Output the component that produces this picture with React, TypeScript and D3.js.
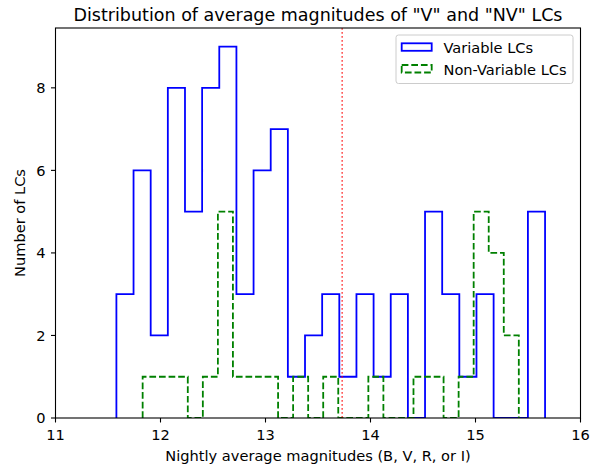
import React from "react";
import * as d3 from "d3";

// Histogram counts for the two samples (25 bins each)
const variableStart = 11.58;
const variableBinWidth = 0.1633;
const variableCounts = [3, 6, 2, 8, 5, 8, 9, 3, 6, 7, 1, 2, 3, 1, 3, 1, 3, 0, 5, 3, 1, 3, 0, 0, 5];

const nonVariableStart = 11.83;
const nonVariableBinWidth = 0.1433;
const nonVariableCounts = [1, 1, 1, 0, 1, 5, 1, 1, 1, 0, 1, 0, 1, 0, 0, 1, 0, 0, 1, 1, 0, 1, 5, 4, 2];

const cutoffMagnitude = 13.73;

const xTicks = [11, 12, 13, 14, 15, 16];
const yTicks = [0, 2, 4, 6, 8];

const seriesLabels = ["Variable LCs", "Non-Variable LCs"];

const W = 601;
const H = 467;
const margin = { left: 55.5, right: 20.5, top: 28, bottom: 49 };
const FONT = "DejaVu Sans, sans-serif";
const LABEL_SIZE = 14.6;
const TITLE_SIZE = 17.5;

function stepPath(
  start: number,
  width: number,
  counts: number[],
  x: d3.ScaleLinear<number, number>,
  y: d3.ScaleLinear<number, number>
): string {
  const pts: [number, number][] = [[x(start), y(0)]];
  counts.forEach((c, i) => {
    const x0 = start + i * width;
    const x1 = start + (i + 1) * width;
    pts.push([x(x0), y(c)]);
    pts.push([x(x1), y(c)]);
  });
  pts.push([x(start + counts.length * width), y(0)]);
  return d3.line()(pts) ?? "";
}

export default function App() {
  const x = d3.scaleLinear().domain([11, 16]).range([margin.left, W - margin.right]);
  const yMax = d3.max([...variableCounts, ...nonVariableCounts]) as number;
  const y = d3
    .scaleLinear()
    .domain([0, yMax * 1.05])
    .range([H - margin.bottom, margin.top]);

  const vPath = stepPath(variableStart, variableBinWidth, variableCounts, x, y);
  const nvPath = stepPath(nonVariableStart, nonVariableBinWidth, nonVariableCounts, x, y);

  const left = margin.left;
  const right = W - margin.right;
  const top = margin.top;
  const bottom = H - margin.bottom;

  return (
    <svg
      width={W}
      height={H}
      style={{ position: "absolute", left: 0, top: 0, background: "#fff" }}
      fontFamily={FONT}
    >
      <rect x={0} y={0} width={W} height={H} fill="#fff" />
      <defs>
        <clipPath id="plotArea">
          <rect x={left} y={top} width={right - left} height={bottom - top} />
        </clipPath>
      </defs>

      <g clipPath="url(#plotArea)">
        <path d={vPath} fill="none" stroke="#0000ff" strokeWidth={1.8} strokeLinejoin="miter" />
        <path
          d={nvPath}
          fill="none"
          stroke="#008000"
          strokeWidth={1.8}
          strokeDasharray="6.7,2.9"
          strokeLinejoin="miter"
        />
        <line
          x1={x(cutoffMagnitude)}
          x2={x(cutoffMagnitude)}
          y1={top}
          y2={bottom}
          stroke="#ff0000"
          strokeWidth={1.3}
          strokeDasharray="1.8,2.2"
          opacity={0.8}
        />
      </g>

      {/* axes frame */}
      <rect x={left} y={top} width={right - left} height={bottom - top} fill="none" stroke="#000" strokeWidth={1.1} />

      {/* x ticks */}
      {xTicks.map((t) => (
        <g key={`x${t}`}>
          <line x1={x(t)} x2={x(t)} y1={bottom} y2={bottom + 4.5} stroke="#000" strokeWidth={1.1} />
          <text x={x(t)} y={bottom + 22} textAnchor="middle" fontSize={LABEL_SIZE} fill="#000">
            {t}
          </text>
        </g>
      ))}

      {/* y ticks */}
      {yTicks.map((t) => (
        <g key={`y${t}`}>
          <line x1={left - 4.5} x2={left} y1={y(t)} y2={y(t)} stroke="#000" strokeWidth={1.1} />
          <text x={left - 10} y={y(t) + 5.2} textAnchor="end" fontSize={LABEL_SIZE} fill="#000">
            {t}
          </text>
        </g>
      ))}

      {/* axis labels */}
      <text x={(left + right) / 2} y={461} textAnchor="middle" fontSize={LABEL_SIZE} fill="#000">
        Nightly average magnitudes (B, V, R, or I)
      </text>
      <text
        transform={`translate(${25},${(top + bottom) / 2}) rotate(-90)`}
        textAnchor="middle"
        fontSize={LABEL_SIZE}
        fill="#000"
      >
        Number of LCs
      </text>

      {/* title */}
      <text x={(left + right) / 2} y={20.5} textAnchor="middle" fontSize={TITLE_SIZE} fill="#000">
        Distribution of average magnitudes of "V" and "NV" LCs
      </text>

      {/* legend */}
      <g>
        <rect x={396} y={35} width={177} height={48.5} rx={2.5} fill="#fff" fillOpacity={0.8} stroke="#cccccc" strokeWidth={1} />
        <rect x={401.7} y={43.3} width={30} height={7.5} fill="none" stroke="#0000ff" strokeWidth={1.8} />
        <text x={443.5} y={52.5} fontSize={LABEL_SIZE} fill="#000">
          {seriesLabels[0]}
        </text>
        <rect
          x={401.7}
          y={65}
          width={30}
          height={7.5}
          fill="none"
          stroke="#008000"
          strokeWidth={1.8}
          strokeDasharray="6.7,2.9"
        />
        <text x={443.5} y={74.5} fontSize={LABEL_SIZE} fill="#000">
          {seriesLabels[1]}
        </text>
      </g>
    </svg>
  );
}
